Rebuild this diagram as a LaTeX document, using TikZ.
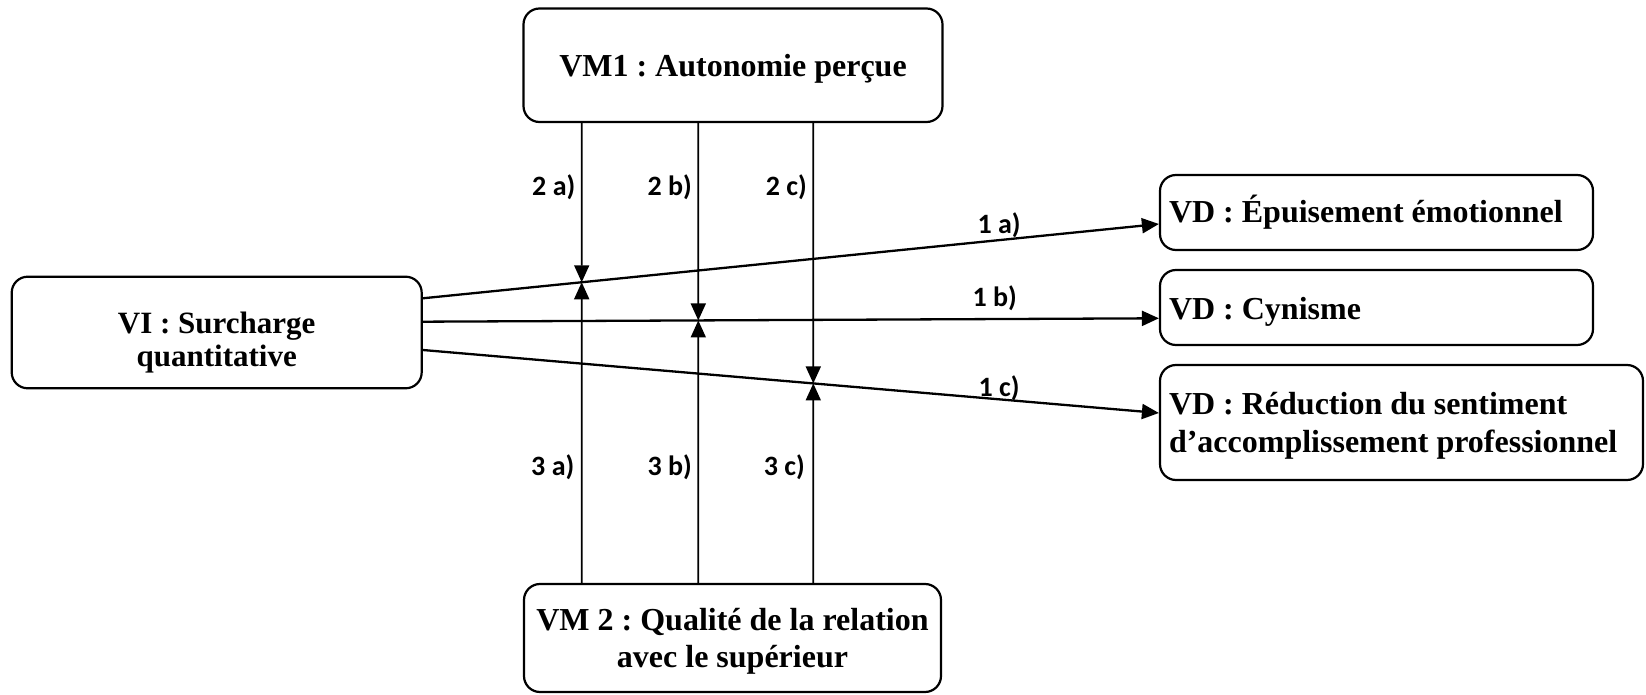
\documentclass[tikz,border=0pt]{standalone}
\usepackage{fontspec}
\setmainfont{Liberation Serif}
\newfontfamily\labfont{Carlito}
\usetikzlibrary{arrows.meta,calc,intersections}
\frenchspacing
\begin{document}
\begin{tikzpicture}[x=0.5pt,y=-0.5pt,
  box/.style={draw, line width=1.1pt, rounded corners=8pt, inner sep=0pt,
    font=\bfseries\fontsize{16}{19}\selectfont},
  lab/.style={font=\labfont\bfseries\fontsize{14}{16}\selectfont, inner sep=0pt},
  link/.style={line width=1.15pt, -{Triangle[length=8.5pt,width=7.5pt]}},
  vlink/.style={line width=0.85pt, -{Triangle[length=8.5pt,width=7.5pt]}}]
\path[use as bounding box] (0,0) rectangle (1646,695);

% boxes
\node[box, minimum width=209.5pt, minimum height=56.75pt, text height=13pt, text depth=1.25pt]
  (vm1) at (733,65.25) {VM1 : Autonomie perçue};
\node[box, minimum width=205pt, minimum height=55.8pt, text height=12pt, text depth=11.2pt,
  font=\bfseries\fontsize{15.5}{16.7}\selectfont]
  (vi) at (216.7,332.5) {\begin{tabular}[t]{@{}c@{}}VI : Surcharge\\quantitative\end{tabular}};
\node[box, minimum width=208.5pt, minimum height=54pt, text height=12pt, text depth=20pt]
  (vm2) at (732.5,638) {\begin{tabular}[t]{@{}c@{}}VM 2 : Qualité de la relation\\avec le supérieur\end{tabular}};
\node[box, minimum width=216.5pt, minimum height=37.5pt, text height=12pt, text depth=1.5pt]
  (vd1) at (1376.5,212.5) {\makebox[207.5pt][l]{VD : Épuisement émotionnel}};
\node[box, minimum width=216.5pt, minimum height=37.5pt, text height=13pt, text depth=1.2pt]
  (vd2) at (1376.5,307.5) {\makebox[207.5pt][l]{VD : Cynisme}};
\node[box, minimum width=241.5pt, minimum height=57.5pt, text height=12pt, text depth=19.5pt]
  (vd3) at (1401.5,422.5) {\makebox[232.5pt][l]{\begin{tabular}[t]{@{}l@{}}VD : Réduction du sentiment\\d’accomplissement professionnel\end{tabular}}};

% main effects
\draw[link, name path=la] ($(vi.east)+(0,-34.2)$) --
  node[lab, pos=0.783, anchor=base, yshift=3.25pt] (l1a) {1 a)} ($(vd1.west)+(0,11.5)$);
\draw[link, name path=lb] ($(vi.east)+(0,-10.8)$) --
  node[lab, pos=0.777, anchor=base, yshift=6.2pt] (l1b) {1 b)} ($(vd2.west)+(0,10.8)$);
\draw[link, name path=lc] ($(vi.east)+(0,17.5)$) --
  node[lab, pos=0.783, anchor=base, yshift=1.3pt] (l1c) {1 c)} ($(vd3.west)+(0,-9.5)$);

% moderator columns
\coordinate (ca) at (581.7,0);
\coordinate (cb) at (698.3,0);
\coordinate (cc) at (813.3,0);
\path[name path=va] (vm1.south -| ca) -- (vm2.north -| ca);
\path[name path=vb] (vm1.south -| cb) -- (vm2.north -| cb);
\path[name path=vc] (vm1.south -| cc) -- (vm2.north -| cc);
\path[name intersections={of=la and va, by=ia}];
\path[name intersections={of=lb and vb, by=ib}];
\path[name intersections={of=lc and vc, by=ic}];

\draw[vlink] (vm1.south -| ca) -- (ia);
\draw[vlink] (vm1.south -| cb) -- (ib);
\draw[vlink] (vm1.south -| cc) -- (ic);
\draw[vlink] (vm2.north -| ca) -- (ia);
\draw[vlink] (vm2.north -| cb) -- (ib);
\draw[vlink] (vm2.north -| cc) -- (ic);

% labels
\node[lab, anchor=base east] (l2a) at ($(ca)+(-6,196)$) {2 a)};
\node[lab, anchor=base east] (l2b) at ($(cb)+(-6,196)$) {2 b)};
\node[lab, anchor=base east] (l2c) at ($(cc)+(-6,196)$) {2 c)};
\node[lab, anchor=base east] (l3a) at ($(ca)+(-7,476)$) {3 a)};
\node[lab, anchor=base east] (l3b) at ($(cb)+(-6,476)$) {3 b)};
\node[lab, anchor=base east] (l3c) at ($(cc)+(-8,476)$) {3 c)};
\end{tikzpicture}
\end{document}
